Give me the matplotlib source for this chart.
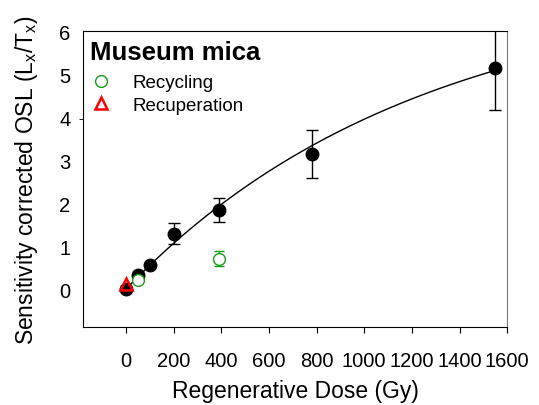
import numpy as np
import matplotlib
matplotlib.use('Agg')
import matplotlib.pyplot as plt

plt.rcParams['font.family'] = ['Liberation Sans', 'DejaVu Sans']

# regenerated dose points (filled)
dose = [0, 50, 100, 200, 390, 780, 1550]
lxtx = [0.0, 0.33, 0.57, 1.29, 1.85, 3.14, 5.15]
lxtx_err = [0.0, 0.0, 0.0, 0.24, 0.28, 0.55, 0.98]

# recycling points
rec_dose = [50, 390]
rec_val = [0.21, 0.71]
rec_err = [0.0, 0.18]

# recuperation point
recup_dose = [0]
recup_val = [0.13]

# saturating exponential fit  y = a*(1-exp(-D/D0))
fit_a = 7.1
fit_D0 = 1230.0
fit_max = 1550

fig = plt.figure(figsize=(5.39, 4.06), dpi=100)
ax = fig.add_axes([0.154, 0.192, 0.787, 0.729])

xx = np.linspace(0, fit_max, 300)
ax.plot(xx, fit_a * (1 - np.exp(-xx / fit_D0)), color='black', lw=1, zorder=3)

ax.errorbar(dose, lxtx, yerr=lxtx_err, fmt='o', color='black', ms=9,
            ecolor='black', elinewidth=1, capsize=4, capthick=1, zorder=2)
ax.errorbar(rec_dose, rec_val, yerr=rec_err, fmt='o', mfc='white', mec='#1a9a1a',
            ms=8.5, mew=1, ecolor='#1a9a1a', elinewidth=1, capsize=3.5, capthick=1,
            zorder=4)
ax.plot(recup_dose, recup_val, '^', mfc='none', mec='red', ms=8, mew=1.8, zorder=5)

ax.set_xlim(-180, 1600)
ax.set_ylim(-0.88, 6)
ax.set_xticks(range(0, 1601, 200))
ax.set_yticks(range(0, 7))
ax.tick_params(axis='x', direction='out', length=4, labelsize=14.5, pad=13)
ax.tick_params(axis='y', length=0, labelsize=14.5, pad=9)
ax.set_yticks([3.96], minor=True)
ax.tick_params(axis='y', which='minor', length=3, direction='out')
ax.spines['right'].set_color('#777777')

ax.set_xlabel('Regenerative Dose (Gy)', fontsize=16.5, labelpad=7)
ax.set_ylabel('Sensitivity corrected OSL (L$_\\mathregular{x}$/T$_\\mathregular{x}$)',
              fontsize=16.5, labelpad=14)

ax.text(0.0165, 0.929, 'Museum mica', transform=ax.transAxes, fontsize=18.5,
        fontweight='bold', va='center')
ax.plot([], [], 'o', mfc='none', mec='#1a9a1a', ms=8.5, label='Recycling')
ax.plot([], [], '^', mfc='none', mec='red', ms=8, mew=1.8, label='Recuperation')
ax.legend(loc='upper left', bbox_to_anchor=(0.002, 0.88), frameon=False,
          fontsize=13.5, handlelength=1.0, handletextpad=1.2, labelspacing=0.3,
          borderaxespad=0, borderpad=0.4)

fig.savefig('out.png', dpi=100)
